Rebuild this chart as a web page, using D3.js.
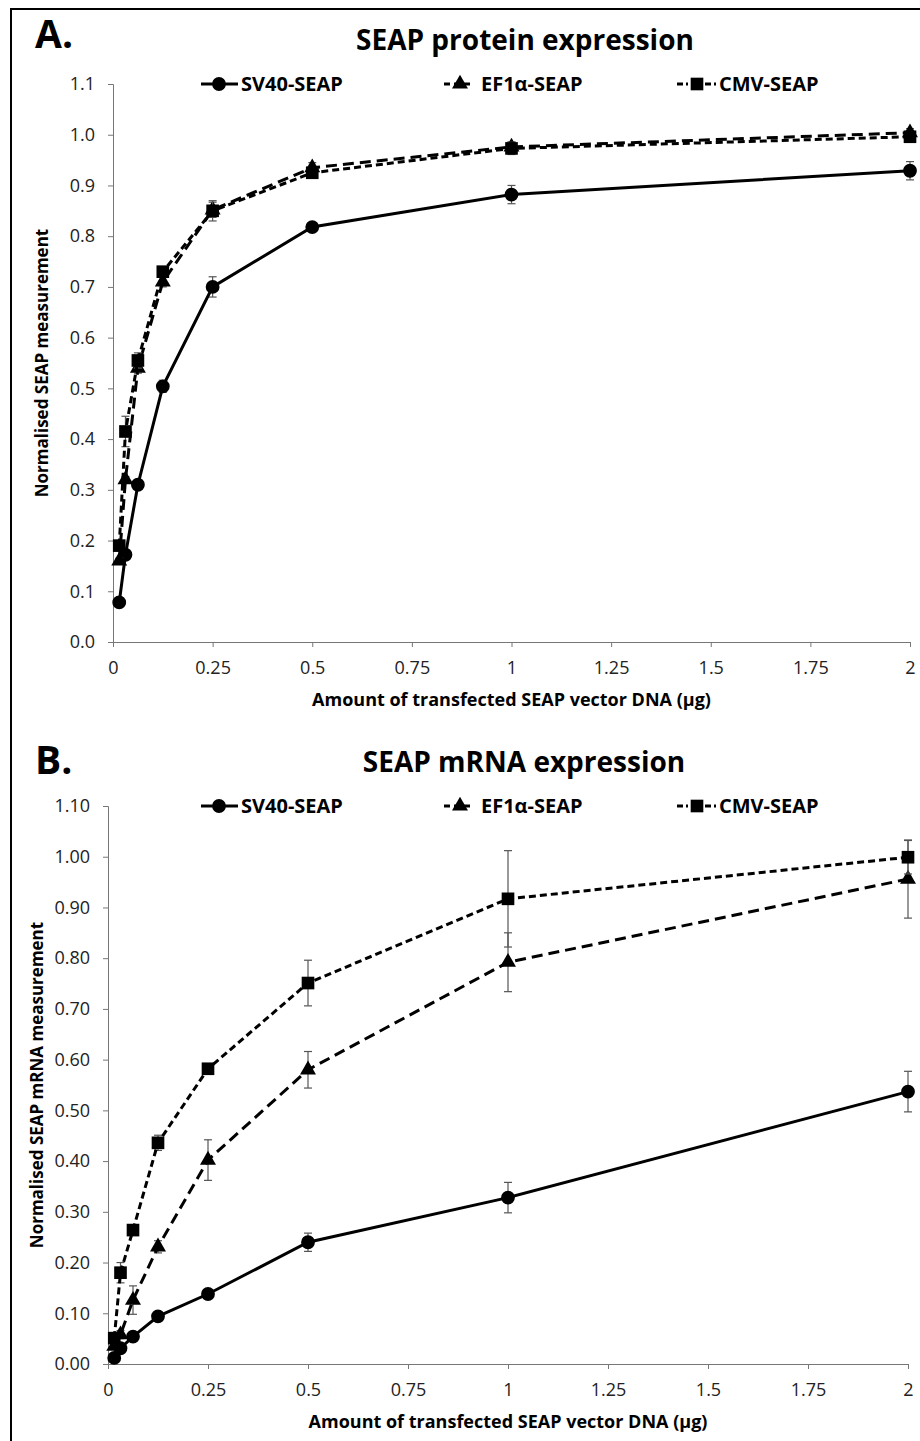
<!DOCTYPE html>
<html>
<head>
<meta charset="utf-8">
<script src="https://cdn.jsdelivr.net/npm/d3@7"></script>
<style>
  body { margin: 0; background: #fff; }
  svg { display: block; font-family: "Open Sans", sans-serif; }
  .axis path, .axis line { stroke: #777; }
  .axis text { fill: #222; font-size: 18px; font-family: "Open Sans", sans-serif; }
</style>
</head>
<body>
<div id="chart"></div>
<script>
// amounts of DNA (µg) used for every series
var doses = [0.015625, 0.03125, 0.0625, 0.125, 0.25, 0.5, 1, 2];
var seriesNames = ["SV40-SEAP", "EF1\u03b1-SEAP", "CMV-SEAP"];
var xTicks = [0, 0.25, 0.5, 0.75, 1, 1.25, 1.5, 1.75, 2];
var yTicks = [0, 0.1, 0.2, 0.3, 0.4, 0.5, 0.6, 0.7, 0.8, 0.9, 1.0, 1.1];

// panel A - protein
var protSV40 = [0.078, 0.172, 0.31, 0.504, 0.70, 0.818, 0.882, 0.929];
var protSV40Err = [0.005, 0.008, 0.006, 0.012, 0.02, 0.008, 0.018, 0.018];
var protEF1a = [0.16, 0.32, 0.54, 0.71, 0.852, 0.935, 0.976, 1.004];
var protEF1aErr = [0.005, 0.006, 0.01, 0.01, 0.015, 0.01, 0.01, 0.008];
var protCMV = [0.19, 0.415, 0.555, 0.73, 0.85, 0.925, 0.973, 0.996];
var protCMVErr = [0.008, 0.03, 0.015, 0.008, 0.02, 0.008, 0.012, 0.008];

// panel B - mRNA
var mrnaSV40 = [0.012, 0.031, 0.054, 0.094, 0.138, 0.24, 0.328, 0.537];
var mrnaSV40Err = [0.003, 0.005, 0.005, 0.006, 0.005, 0.018, 0.03, 0.04];
var mrnaEF1a = [0.035, 0.058, 0.126, 0.231, 0.402, 0.58, 0.792, 0.956];
var mrnaEF1aErr = [0.005, 0.008, 0.028, 0.012, 0.04, 0.036, 0.058, 0.077];
var mrnaCMV = [0.051, 0.18, 0.264, 0.436, 0.582, 0.751, 0.917, 0.999];
var mrnaCMVErr = [0.005, 0.02, 0.01, 0.015, 0.008, 0.045, 0.095, 0.033];

var W = 920, H = 1441;

var svg = d3.select('#chart')
    .append('svg')
    .attr('width', W)
    .attr('height', H);

// outer frame (only left and top edges show)
svg.append('rect')
    .attr('x', 11).attr('y', 9)
    .attr('width', 1000).attr('height', 1600)
    .attr('fill', 'none')
    .attr('stroke', '#000')
    .attr('stroke-width', 2);

var styles = [
    { dash: null, symbol: d3.symbolCircle, size: 150, legDash: null },
    { dash: '11,6', symbol: d3.symbolTriangle, size: 110, legDash: '6,4' },
    { dash: '7,4', symbol: d3.symbolSquare, size: 160, legDash: '6,3,2,3' }
];

function drawPanel(p) {
    var x = d3.scaleLinear().domain([0, 2]).range([p.left, p.right]);
    var y = d3.scaleLinear().domain([0, 1.1]).range([p.bottom, p.top]);

    // letter and title
    svg.append('text')
        .attr('x', 35).attr('y', p.letterY)
        .attr('font-size', 39).attr('font-weight', 'bold')
        .text(p.letter);
    svg.append('text')
        .attr('x', p.titleX).attr('y', p.titleY)
        .attr('text-anchor', 'middle')
        .attr('font-size', 28).attr('font-weight', 'bold')
        .text(p.title);

    // axes
    svg.append('g')
        .attr('class', 'axis')
        .attr('transform', 'translate(0,' + p.bottom + ')')
        .call(d3.axisBottom(x).tickValues(xTicks).tickFormat(d => d).tickSize(5).tickPadding(14));
    svg.append('g')
        .attr('class', 'axis')
        .attr('transform', 'translate(' + p.left + ',0)')
        .call(d3.axisLeft(y).tickValues(yTicks).tickFormat(d3.format(p.yFmt)).tickSize(5).tickPadding(13));
    svg.selectAll('.axis .domain').attr('stroke', '#777');

    // axis titles
    svg.append('text')
        .attr('x', (p.left + p.right) / 2).attr('y', p.bottom + 64)
        .attr('text-anchor', 'middle')
        .attr('font-size', 18).attr('font-weight', 'bold')
        .text('Amount of transfected SEAP vector DNA (\u00b5g)');
    svg.append('text')
        .attr('transform', 'translate(' + p.yTitleX + ',' + ((p.top + p.bottom) / 2) + ') rotate(-90)')
        .attr('text-anchor', 'middle')
        .attr('font-size', 17).attr('font-weight', 'bold')
        .text(p.yTitle);

    // series
    p.series.forEach(function (s, i) {
        var st = styles[i];
        var pts = doses.map(function (d, j) { return { x: d, y: s.vals[j], e: s.errs[j] }; });
        var g = svg.append('g');

        // error bars
        var eb = g.selectAll('.eb').data(pts).enter().append('g');
        eb.append('line')
            .attr('x1', d => x(d.x)).attr('x2', d => x(d.x))
            .attr('y1', d => y(d.y - d.e)).attr('y2', d => y(d.y + d.e))
            .attr('stroke', '#555').attr('stroke-width', 1.2);
        eb.append('line')
            .attr('x1', d => x(d.x) - 4).attr('x2', d => x(d.x) + 4)
            .attr('y1', d => y(d.y + d.e)).attr('y2', d => y(d.y + d.e))
            .attr('stroke', '#555').attr('stroke-width', 1.2);
        eb.append('line')
            .attr('x1', d => x(d.x) - 4).attr('x2', d => x(d.x) + 4)
            .attr('y1', d => y(d.y - d.e)).attr('y2', d => y(d.y - d.e))
            .attr('stroke', '#555').attr('stroke-width', 1.2);

        g.append('path')
            .datum(pts)
            .attr('fill', 'none')
            .attr('stroke', '#000')
            .attr('stroke-width', 3)
            .attr('stroke-dasharray', st.dash)
            .attr('d', d3.line().x(d => x(d.x)).y(d => y(d.y)));

        g.selectAll('.pt').data(pts).enter().append('path')
            .attr('transform', d => 'translate(' + x(d.x) + ',' + y(d.y) + ')')
            .attr('d', d3.symbol().type(st.symbol).size(st.size))
            .attr('fill', '#000');

        // legend entry
        var lg = p.legend[i];
        svg.append('line')
            .attr('x1', lg.x1).attr('x2', lg.x2)
            .attr('y1', p.legendY).attr('y2', p.legendY)
            .attr('stroke', '#000').attr('stroke-width', 3)
            .attr('stroke-dasharray', st.legDash);
        svg.append('path')
            .attr('transform', 'translate(' + lg.m + ',' + p.legendY + ')')
            .attr('d', d3.symbol().type(st.symbol).size(st.size))
            .attr('fill', '#000');
        svg.append('text')
            .attr('x', lg.tx).attr('y', p.legendY)
            .attr('dy', '0.35em')
            .attr('font-size', 20).attr('font-weight', 'bold')
            .text(seriesNames[i]);
    });
}

var legendPos = [
    { x1: 201, x2: 238, m: 219, tx: 241 },
    { x1: 444, x2: 474, m: 460, tx: 481 },
    { x1: 677, x2: 717, m: 697, tx: 719 }
];

drawPanel({
    letter: 'A.', letterY: 48, title: 'SEAP protein expression', titleX: 525, titleY: 50,
    left: 113, right: 910, top: 84, bottom: 642, yFmt: '.1f',
    yTitle: 'Normalised SEAP measurement', yTitleX: 48, legendY: 84, legend: legendPos,
    series: [
        { vals: protSV40, errs: protSV40Err },
        { vals: protEF1a, errs: protEF1aErr },
        { vals: protCMV, errs: protCMVErr }
    ]
});

drawPanel({
    letter: 'B.', letterY: 774, title: 'SEAP mRNA expression', titleX: 524, titleY: 772,
    left: 108, right: 908, top: 806, bottom: 1364, yFmt: '.2f',
    yTitle: 'Normalised SEAP mRNA measurement', yTitleX: 43, legendY: 806, legend: legendPos,
    series: [
        { vals: mrnaSV40, errs: mrnaSV40Err },
        { vals: mrnaEF1a, errs: mrnaEF1aErr },
        { vals: mrnaCMV, errs: mrnaCMVErr }
    ]
});
</script>
</body>
</html>
